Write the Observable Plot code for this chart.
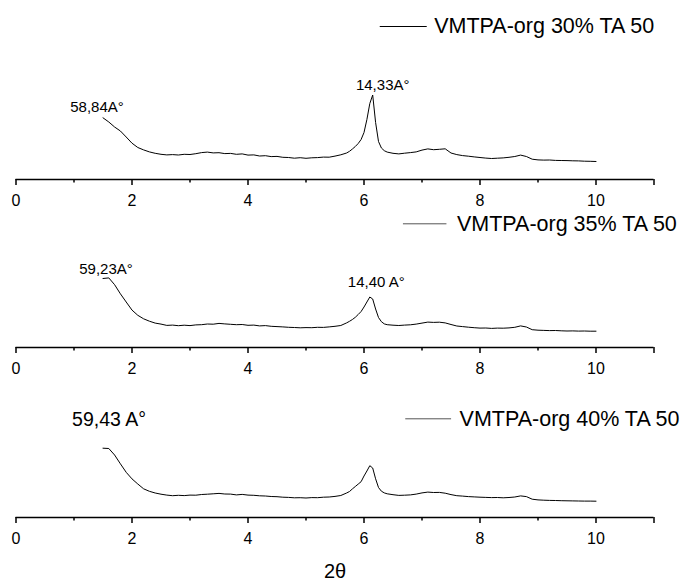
<!DOCTYPE html>
<html><head><meta charset="utf-8">
<script src="https://cdn.jsdelivr.net/npm/d3@7"></script>
<script src="https://cdn.jsdelivr.net/npm/@observablehq/plot@0.6"></script>
<style>body{margin:0;background:#fff} #chart svg{display:block}</style>
</head><body><div id="chart"></div>
<script>
// 2θ grid (degrees) shared by the three patterns
const twoTheta = [1.5,1.6,1.7,1.8,1.9,2.0,2.1,2.2,2.3,2.4,2.5,2.6,2.7,2.8,2.9,3.0,3.1,3.2,3.3,3.4,3.5,3.6,3.7,3.8,3.9,4.0,4.1,4.2,4.3,4.4,4.5,4.6,4.7,4.8,4.9,5.0,5.1,5.2,5.3,5.4,5.5,5.6,5.7,
  5.75,5.8,5.85,5.9,5.95,6.0,6.05,6.1,6.15,6.2,6.25,6.3,6.35,6.4,
  6.5,6.6,6.7,6.8,6.9,7.0,7.1,7.2,7.3,7.4,7.5,7.6,7.7,7.8,7.9,8.0,8.1,8.2,8.3,8.4,8.5,8.6,8.7,8.8,8.9,9.0,9.1,9.2,9.3,9.4,9.5,9.6,9.7,9.8,9.9,10.0];

// intensities (arbitrary units)
const intensity30 = [61.7,57.5,52.5,48.5,42.5,36.3,32.0,29.6,27.6,26.2,25.2,24.6,24.9,24.5,25.2,25.0,25.8,26.9,27.4,26.6,26.8,25.9,26.1,25.2,25.6,24.4,24.6,23.5,23.8,22.9,23.1,22.2,22.0,21.3,21.8,21.2,21.7,21.9,22.4,22.3,23.4,24.7,26.5,
  28.2,30.5,33.0,36.0,40.0,47.0,60.0,76.0,84.5,57.0,38.0,31.5,28.8,27.4,
  26.2,25.6,26.3,26.9,27.6,29.4,30.6,29.8,30.2,30.7,26.5,24.9,23.9,23.3,22.6,22.0,21.4,21.0,21.3,21.6,22.2,23.0,24.4,23.0,20.3,19.6,19.4,19.5,19.1,19.0,18.9,18.7,18.6,18.3,18.2,18.0];

const intensity35 = [69.0,69.6,62.8,53.7,45.5,37.4,32.2,28.7,26.3,24.4,23.4,22.1,22.4,21.8,22.3,21.9,22.6,22.8,23.5,23.3,24.1,23.6,23.2,22.8,23.0,22.2,22.4,21.6,21.9,21.2,20.9,20.6,20.2,20.0,19.7,19.9,19.8,20.2,20.1,20.6,21.2,22.0,24.6,
  26.2,28.0,30.2,33.0,36.0,40.5,45.5,50.5,48.5,38.5,30.0,25.8,23.6,22.8,
  22.3,22.0,22.4,22.7,23.4,24.4,25.4,25.1,25.3,24.6,23.0,21.5,20.9,20.3,19.8,19.4,19.5,19.1,19.4,19.3,19.6,20.2,21.6,20.5,17.8,17.3,17.1,16.9,17.0,16.7,16.5,16.6,16.4,16.5,16.3,16.3];

const intensity40 = [69.3,69.0,62.5,53.7,45.2,38.6,33.5,28.7,26.2,24.5,23.3,22.4,21.8,22.2,21.9,22.4,22.3,23.0,23.3,23.7,24.1,23.5,23.4,22.6,23.1,22.4,22.2,21.7,21.5,21.0,20.8,20.3,20.1,19.7,19.8,19.5,19.9,19.8,20.3,20.5,21.1,22.0,24.5,
  26.0,28.6,31.0,33.4,35.8,41.5,46.5,51.8,49.5,38.7,30.0,26.3,24.6,23.7,
  22.8,22.1,22.3,22.6,23.4,24.6,25.4,25.0,25.1,24.3,22.9,21.8,21.4,20.9,20.6,20.3,20.1,19.9,20.0,19.7,20.0,20.5,21.6,20.9,18.3,17.6,17.3,17.1,17.0,16.8,16.7,16.6,16.5,16.4,16.4,16.3];

const seriesNames = ["VMTPA-org 30% TA 50", "VMTPA-org 35% TA 50", "VMTPA-org 40% TA 50"];
const lowAngleLabels = ["58,84A°", "59,23A°", "59,43 A°"];
const peakLabels = ["14,33A°", "14,40 A°", ""];
const majorTicks = [0, 2, 4, 6, 8, 10, 11];
const majorTickLabels = ["0", "2", "4", "6", "8", "10", ""];
const minorTicks = [1, 3, 5, 7, 9];
const xLabel = "2θ";

const FONT = "'Liberation Sans', Arial, Helvetica, sans-serif";
const series = [intensity30, intensity35, intensity40];

// layout per panel (styling only)
const layout = [
  {height: 210, marginBottom: 31, legendY: 153, legendX: [6.28, 7.09], legendDx: 7, legendStroke: "#000",
   lowDx: -6, lowDy: -5.6, lowSize: 15, peakDx: 10, peakDy: -5, peakSize: 15},
  {height: 170, marginBottom: 33, legendY: 123.7, legendX: [6.68, 7.43], legendDx: 10, legendStroke: "#555",
   lowDx: 3, lowDy: -4.4, lowSize: 15, peakDx: 6.5, peakDy: -10, peakSize: 15},
  {height: 201, marginBottom: 64, legendY: 98.7, legendX: [6.72, 7.51], legendDx: 8, legendStroke: "#555",
   lowDx: 6, lowDy: -22.7, lowSize: 19.5, peakDx: 0, peakDy: -8, peakSize: 15, showXLabel: true}
];

const chart = document.getElementById("chart");

layout.forEach((L, k) => {
  const rows = twoTheta.map((t, j) => ({tt: t, i: series[k][j]}));
  const region = rows.filter(d => d.tt > 5);
  const peak = region.reduce((a, b) => (b.i > a.i ? b : a));
  const marks = [
    Plot.line(rows, {x: "tt", y: "i", stroke: "#000", strokeWidth: 1}),
    Plot.ruleY([0], {stroke: "#000", strokeWidth: 1.5}),
    Plot.axisX(majorTicks, {tickSize: 6, tickPadding: 9.6, fontSize: 16, strokeWidth: 1.5, label: null,
      tickFormat: d => majorTickLabels[majorTicks.indexOf(d)]}),
    Plot.axisX(minorTicks, {tickSize: 3.5, strokeWidth: 1.5, label: null, tickFormat: () => ""}),
    Plot.text([rows[0]], {x: "tt", y: "i", text: () => lowAngleLabels[k], textAnchor: "middle", lineAnchor: "bottom",
      dx: L.lowDx, dy: L.lowDy, fontSize: L.lowSize, fill: "#000"}),
    Plot.ruleY([L.legendY], {x1: L.legendX[0], x2: L.legendX[1], stroke: L.legendStroke, strokeWidth: 1}),
    Plot.text([seriesNames[k]], {x: L.legendX[1], y: L.legendY, text: d => d, textAnchor: "start", lineAnchor: "middle",
      dx: L.legendDx, fontSize: 21.5, fill: "#000"})
  ];
  if (peakLabels[k]) {
    marks.push(Plot.text([peak], {x: "tt", y: "i", text: () => peakLabels[k], textAnchor: "middle", lineAnchor: "bottom",
      dx: L.peakDx, dy: L.peakDy, fontSize: L.peakSize, fill: "#000"}));
  }
  if (L.showXLabel) {
    marks.push(Plot.text([xLabel], {frameAnchor: "bottom", text: d => d, dy: 60, lineAnchor: "bottom", fontSize: 20, fill: "#000"}));
  }
  const svg = Plot.plot({
    width: 684,
    height: L.height,
    marginLeft: 15.5,
    marginRight: 30.5,
    marginTop: 0,
    marginBottom: L.marginBottom,
    x: {domain: [0, 11], label: null},
    y: {domain: [0, L.height - L.marginBottom], axis: null, label: null},
    style: {fontFamily: FONT, color: "#000", background: "#fff", overflow: "visible"},
    marks
  });
  chart.appendChild(svg);
});
</script>
</body></html>
